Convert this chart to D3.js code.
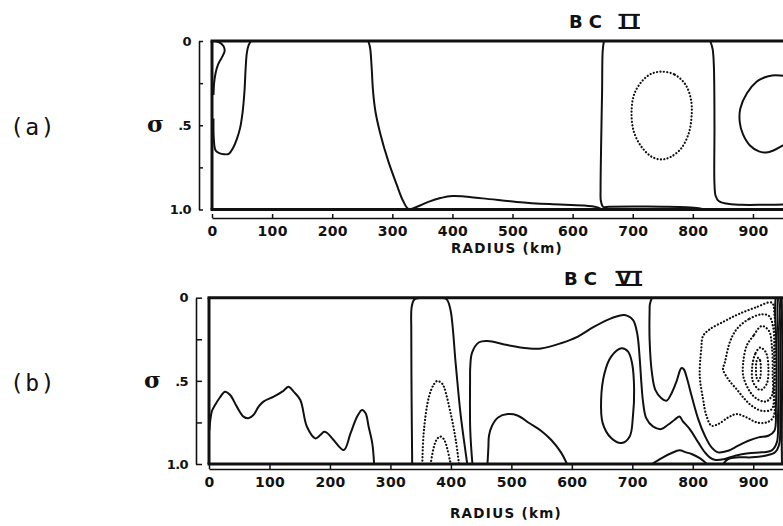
<!DOCTYPE html>
<html><head><meta charset="utf-8">
<script src="https://cdn.jsdelivr.net/npm/d3@7"></script>
<style>body{margin:0;background:#fff}svg{display:block}</style>
</head><body>
<svg id="chart" width="783" height="526"></svg>
<script>
// ---------------- data ----------------
const radiusTicks = [0, 100, 200, 300, 400, 500, 600, 700, 800, 900];
const sigmaTicks = [0, 0.25, 0.5, 0.75, 1.0];
const sigmaTickLabels = ["0", "", ".5", "", "1.0"];
const panelLabels = ["(a)", "(b)"];
const panelTitles = [["BC", "II"], ["BC", "VI"]];
const axisTitle = "RADIUS (km)";
const sigmaSymbol = "σ";

// BC II contours: [radius km, sigma]
const bc2Solid = [
  [[3,0],[12,0.008],[19,0.03],[21,0.06],[16,0.1],[10,0.14],[6,0.19],[3.5,0.25],[2.5,0.32]],
  [[2.5,0.46],[3,0.58],[6,0.65],[12,0.665],[20,0.672],[28,0.67],[35,0.635],[41,0.585],[46.5,0.52],[51,0.42],[54,0.3],[56,0.16],[58,0.07],[61,0.025],[65,0]],
  [[260,0],[263,0.04],[265.5,0.15],[268,0.3],[272,0.42],[280,0.55],[293,0.71],[307,0.85],[318,0.95],[327,0.997],[340,0.985],[360,0.955],[380,0.932],[400,0.92],[450,0.934],[507,0.955],[562,0.968],[618,0.976],[640,0.986],[648,0.998]],
  [[652,0],[650,0.06],[649,0.3],[647.5,0.6],[646.5,0.88],[647,0.95],[651,0.985],[660,0.984],[700,0.982],[750,0.983],[790,0.986],[810,0.992],[818,0.998]],
  [[829,0],[833,0.05],[835,0.15],[836,0.5],[836,0.85],[838,0.92],[843,0.95],[855,0.965],[880,0.972],[920,0.972],[965,0.97]],
  [[965,0.215],[945,0.205],[932,0.205],[920,0.215],[906,0.242],[890,0.31],[879,0.4],[878,0.48],[883,0.55],[895,0.62],[910,0.655],[922,0.662],[934,0.65],[950,0.62],[965,0.6]]
];
const bc2SolidClosed = [];
const bc2Dotted = [];
const bc2DottedClosed = [
  [[748,0.182],[770,0.2],[788,0.26],[797,0.35],[798,0.44],[793,0.55],[780,0.64],[762,0.69],[748,0.703],[732,0.688],[715,0.63],[702,0.54],[698,0.43],[702,0.32],[715,0.24],[730,0.196]]
];

// BC VI contours
const bc6Solid = [
  [[0.5,0.8],[2,0.74],[5,0.68],[10,0.645],[18,0.6],[26.5,0.565],[35,0.585],[46,0.655],[57,0.715],[65,0.725],[73.5,0.705],[82,0.655],[90,0.625],[107,0.595],[123,0.56],[131.5,0.535],[140,0.565],[151,0.615],[162,0.776],[176,0.846],[184,0.826],[190,0.806],[195,0.812],[206,0.856],[223,0.916],[234,0.816],[245,0.715],[253,0.675],[259,0.695],[264,0.776],[270,0.876],[273,0.998]],
  [[336,1],[335,0.6],[334.5,0.2],[335,0.06],[338.8,0.014],[345,0.004],[390,0.004],[394,0.014],[399.7,0.08],[408,0.4],[416,0.7],[424.5,0.934],[427,1]],
  [[435.6,1],[432,0.795],[431.7,0.5],[432,0.417],[435,0.33],[446.6,0.268],[460.5,0.26],[493.7,0.285],[526.9,0.304],[549,0.306],[582,0.274],[610,0.234],[637,0.174],[665,0.124],[687,0.104],[701,0.134],[708,0.214],[712,0.354],[715,0.514],[718,0.634],[723,0.724],[734,0.774],[748,0.79],[759,0.764],[770,0.734],[778,0.714],[783,0.74],[795,0.79],[809,0.87],[820,0.93],[828,0.96],[836,0.975],[853,0.97],[870,0.95],[892,0.935],[914,0.93],[930,0.92],[939,0.87],[941,0.7],[942,0.4],[941,0.2],[940,0.07],[941,0]],
  [[460.5,1],[462,0.9],[463,0.83],[468,0.77],[478,0.72],[494,0.7],[510,0.708],[530,0.755],[549,0.8],[566,0.856],[582,0.93],[592,1]],
  [[732.5,0],[729,0.04],[728.6,0.074],[728.6,0.254],[732.5,0.454],[738,0.554],[748,0.604],[756.5,0.62],[765,0.574],[773,0.504],[781,0.424],[785,0.43],[790,0.48],[798,0.59],[809,0.73],[820,0.83],[831,0.9],[842,0.93],[858.6,0.92],[875,0.89],[892,0.86],[908.6,0.84],[925,0.83],[935,0.8],[937.5,0.65],[938.5,0.4],[937.5,0.2],[936,0.07],[937,0]],
  [[732.5,1],[748.6,0.964],[765,0.934],[778,0.918],[789,0.93],[798,0.94],[811.5,0.965],[822.6,0.997]],
  [[850,1],[858.6,0.97],[875,0.96],[897.6,0.96],[920,0.95],[936,0.93],[943,0.88],[944.5,0.7],[945,0.4],[944.5,0.2],[944,0.07],[945,0]],
  [[947.5,1],[947,0.85],[947.5,0.6],[948,0.4],[947.5,0.15],[947,0]],
  [[950.5,1],[950,0.7],[950.5,0.4],[950,0.1],[950.5,0]]
];
const bc6SolidClosed = [
  [[682,0.304],[665,0.354],[654,0.454],[648.4,0.614],[651,0.754],[665,0.844],[682,0.874],[695.7,0.834],[701,0.714],[703,0.554],[699.6,0.394],[693,0.324]]
];
const bc6Dotted = [
  [[352.7,1],[355.4,0.795],[363.7,0.596],[372,0.52],[377.6,0.5],[385,0.515],[388.6,0.537],[399.7,0.696],[408,0.855],[413.4,1]],
  [[366.5,1],[372,0.895],[377,0.85],[382,0.835],[387,0.845],[391.4,0.875],[399.7,1]]
];
const bc6DottedClosed = [
  [[930.6,0.03],[903,0.06],[875,0.1],[853,0.14],[828,0.19],[817,0.23],[814,0.31],[811.5,0.47],[817,0.61],[822.6,0.71],[831,0.77],[842,0.76],[858.6,0.72],[872.4,0.7],[889,0.72],[906,0.75],[922,0.75],[933,0.72],[935.5,0.55],[936,0.3],[935,0.1]],
  [[914,0.1],[892,0.13],[872.4,0.19],[861,0.27],[853,0.39],[850,0.43],[858.6,0.49],[872.4,0.55],[886,0.61],[897.6,0.65],[914,0.68],[930.6,0.67],[934,0.55],[934.5,0.35],[933,0.18],[926,0.11]],
  [[914,0.17],[900,0.23],[889,0.29],[883.4,0.39],[883.4,0.47],[892,0.55],[903,0.6],[920,0.625],[930.6,0.59],[932,0.45],[931,0.3],[926,0.2]],
  [[911.6,0.3],[903,0.34],[898,0.43],[900,0.51],[911.6,0.555],[922,0.52],[925,0.42],[921,0.33]],
  [[908.5,0.36],[911.5,0.38],[912.5,0.43],[911.5,0.48],[908.5,0.5],[905.5,0.48],[904.5,0.43],[905.5,0.38]]
];

// ---------------- layout ----------------
const W = 783, H = 526;
const INK = "#111";
const panels = [
  {x0:212, x1:783, yTop:41, yBot:209.5, xAxisY:218, yAxisX:199, yTick:4,
   titleBase:28, bcX:569, numX:620, numSpacing:5, labelBase:135, sigmaX:147, sigmaBase:132, radBase:253, radX:507,
   solid:bc2Solid, solidClosed:bc2SolidClosed, dotted:bc2Dotted, dottedClosed:bc2DottedClosed},
  {x0:209, x1:783.5, yTop:297.7, yBot:464, xAxisY:469, yAxisX:196, yTick:6,
   titleBase:285, bcX:564, numX:617, numSpacing:3, labelBase:391, sigmaX:144, sigmaBase:388, radBase:518, radX:506,
   solid:bc6Solid, solidClosed:bc6SolidClosed, dotted:bc6Dotted, dottedClosed:bc6DottedClosed}
];

const svg = d3.select("#chart");
svg.append("rect").attr("width", W).attr("height", H).attr("fill", "#fff");
const defs = svg.append("defs");

panels.forEach((p, i) => {
  const x = d3.scaleLinear().domain([0, 950]).range([p.x0, p.x1]);
  const y = d3.scaleLinear().domain([0, 1]).range([p.yTop, p.yBot]);
  const g = svg.append("g");

  const clipId = "clip" + i;
  defs.append("clipPath").attr("id", clipId).append("rect")
    .attr("x", x(0)).attr("y", y(0)).attr("width", W - x(0) + 10).attr("height", y(1) - y(0));

  const line = d3.line().x(d => x(d[0])).y(d => y(d[1])).curve(d3.curveCatmullRom.alpha(0.5));
  const lineClosed = d3.line().x(d => x(d[0])).y(d => y(d[1])).curve(d3.curveCatmullRomClosed.alpha(0.5));

  const cg = g.append("g").attr("clip-path", `url(#${clipId})`).attr("fill", "none").attr("stroke", INK);
  cg.selectAll("path.s").data(p.solid).join("path").attr("class", "s")
    .attr("d", line).attr("stroke-width", 2).attr("stroke-linejoin", "round");
  cg.selectAll("path.sc").data(p.solidClosed).join("path").attr("class", "sc")
    .attr("d", lineClosed).attr("stroke-width", 2);
  cg.selectAll("path.d").data(p.dotted).join("path").attr("class", "d")
    .attr("d", line).attr("stroke-width", 2.2).attr("stroke-linecap", "round").attr("stroke-dasharray", "0.1,3.3");
  cg.selectAll("path.dc").data(p.dottedClosed).join("path").attr("class", "dc")
    .attr("d", lineClosed).attr("stroke-width", 2.2).attr("stroke-linecap", "round").attr("stroke-dasharray", "0.1,3.3");

  // frame
  const fg = g.append("g").attr("stroke", INK).attr("stroke-width", 3).attr("fill", "none");
  fg.append("line").attr("x1", x(0) - 1.5).attr("x2", W).attr("y1", y(0)).attr("y2", y(0));
  fg.append("line").attr("x1", x(0) - 1.5).attr("x2", W).attr("y1", y(1)).attr("y2", y(1));
  fg.append("line").attr("x1", x(0)).attr("x2", x(0)).attr("y1", y(0)).attr("y2", y(1));

  // x axis
  const xa = g.append("g").attr("transform", `translate(0,${p.xAxisY})`)
    .call(d3.axisBottom(x).tickValues(radiusTicks).tickSizeInner(-4).tickSizeOuter(0).tickPadding(8).tickFormat(d3.format("d")));
  xa.select(".domain").attr("stroke", INK).attr("stroke-width", 1.6);
  xa.selectAll(".tick line").attr("stroke", INK).attr("stroke-width", 1.5);
  xa.selectAll(".tick text").attr("fill", INK).attr("font-family", "DejaVu Sans").attr("font-weight", "bold")
    .attr("font-size", 14).attr("letter-spacing", 0.3);

  // y axis
  const ya = g.append("g").attr("transform", `translate(${p.yAxisX},0)`)
    .call(d3.axisLeft(y).tickValues(sigmaTicks).tickSizeInner(-p.yTick).tickSizeOuter(0).tickPadding(8)
      .tickFormat((d, k) => sigmaTickLabels[k]));
  ya.select(".domain").attr("stroke", INK).attr("stroke-width", 1.6);
  ya.selectAll(".tick line").attr("stroke", INK).attr("stroke-width", 1.5);
  ya.selectAll(".tick text").attr("fill", INK).attr("font-family", "DejaVu Sans").attr("font-weight", "bold")
    .attr("font-size", 13).attr("letter-spacing", -0.6);

  // axis title
  g.append("text").attr("x", p.radX).attr("y", p.radBase).attr("text-anchor", "middle")
    .attr("font-family", "DejaVu Sans").attr("font-weight", "bold").attr("font-size", 13.5)
    .attr("letter-spacing", 1.3).attr("fill", INK).text(axisTitle);

  // sigma symbol
  g.append("text").attr("x", p.sigmaX).attr("y", p.sigmaBase).attr("font-family", "DejaVu Serif")
    .attr("font-weight", "bold").attr("font-size", 23).attr("fill", INK).text(sigmaSymbol);

  // panel label
  g.append("text").attr("x", 10).attr("y", p.labelBase).attr("font-family", "DejaVu Sans Mono")
    .attr("font-size", 23).attr("letter-spacing", 1.5).attr("fill", INK).text(panelLabels[i]);

  // title
  const t = panelTitles[i];
  g.append("text").attr("x", p.bcX).attr("y", p.titleBase).attr("font-family", "DejaVu Sans")
    .attr("font-weight", "bold").attr("font-size", 18).attr("letter-spacing", 6).attr("fill", INK).text(t[0]);
  const num = g.append("text").attr("x", p.numX).attr("y", p.titleBase).attr("font-family", "DejaVu Sans")
    .attr("font-weight", "bold").attr("font-size", 18).attr("letter-spacing", p.numSpacing).attr("fill", INK).text(t[1]);
  const bb = num.node().getBBox();
  const capH = 18 * 0.73;
  const bx0 = bb.x - 1.5, bx1 = bb.x + bb.width - p.numSpacing + 1.5;
  g.append("line").attr("x1", bx0).attr("x2", bx1).attr("y1", p.titleBase - capH).attr("y2", p.titleBase - capH)
    .attr("stroke", INK).attr("stroke-width", 2);
  g.append("line").attr("x1", bx0).attr("x2", bx1).attr("y1", p.titleBase).attr("y2", p.titleBase)
    .attr("stroke", INK).attr("stroke-width", 2);
});
</script>
</body></html>
